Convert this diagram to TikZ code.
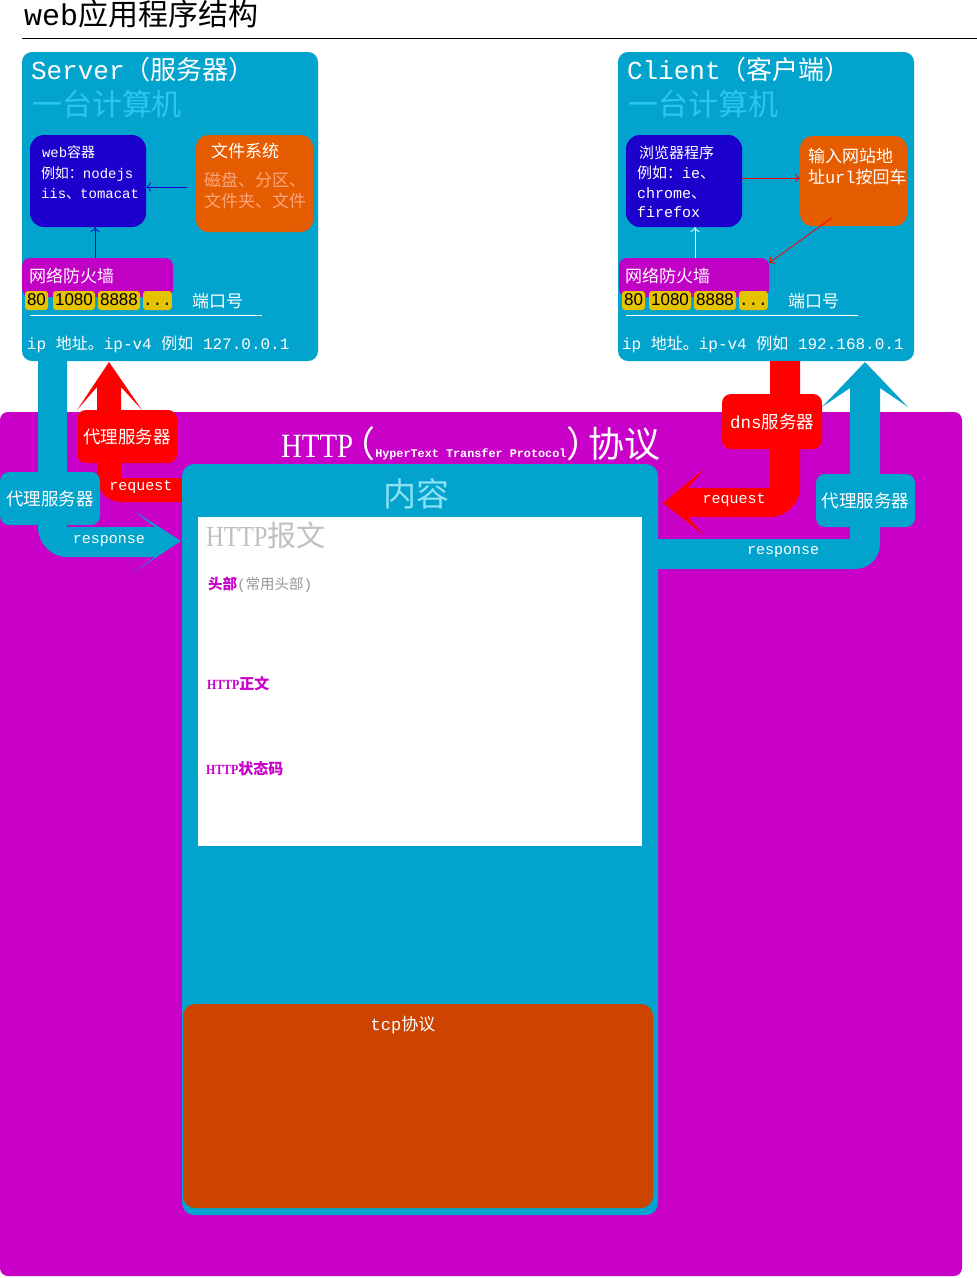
\documentclass[tikz,border=0pt]{standalone}
\usepackage{fontspec}
\setmainfont{Liberation Mono}
\newfontfamily\cjkf{Noto Sans CJK SC}
\newfontfamily\serf{Liberation Serif}[FakeStretch=0.85]
\newfontfamily\sansf{Liberation Sans}
\usetikzlibrary{arrows.meta}
% automatic switch between Latin and CJK fonts
\XeTeXinterchartokenstate=1
\newXeTeXintercharclass\CJKcls
\newcount\cjkc
\def\setcjkrange#1#2{\cjkc=#1\relax\loop\ifnum\cjkc<#2\relax\XeTeXcharclass\cjkc=\CJKcls\advance\cjkc by 1\relax\repeat}
\setcjkrange{"3000}{"3040}
\setcjkrange{"4E00}{"A000}
\setcjkrange{"FF00}{"FFF0}
\def\backfont{\rmfamily}
\XeTeXinterchartoks 0 \CJKcls = {\cjkf}
\XeTeXinterchartoks 4095 \CJKcls = {\cjkf}
\XeTeXinterchartoks \CJKcls 0 = {\backfont}
\XeTeXinterchartoks \CJKcls 4095 = {\backfont}

\definecolor{teal1}{RGB}{2,163,204}
\definecolor{mag}{RGB}{200,0,200}
\definecolor{fwmag}{RGB}{192,0,196}
\definecolor{dblue}{RGB}{28,0,204}
\definecolor{orng}{RGB}{230,92,0}
\definecolor{tcpor}{RGB}{204,68,0}
\definecolor{ylw}{RGB}{230,195,0}
\definecolor{lcyan}{RGB}{45,198,240}
\definecolor{ncyan}{RGB}{140,225,245}
\definecolor{peach}{RGB}{250,165,125}
\definecolor{lgrey}{RGB}{192,192,192}
\definecolor{mgrey}{RGB}{150,150,150}

\tikzset{
  area/.style={anchor=north west, inner sep=0pt, outer sep=0pt, draw=none},
  lbl/.style={anchor=base west, inner sep=0pt, outer sep=0pt, text=white},
  clbl/.style={anchor=center, inner sep=0pt, outer sep=0pt, text=white},
  sz/.style={font=\fontsize{#1}{#1}\selectfont},
  port/.style={area, fill=ylw, rounded corners=3pt, minimum height=19pt, text=black,
    text height=12.5pt, text depth=2.5pt,
    font=\sansf\fontsize{17}{17}\selectfont},
  proxy/.style={area, rounded corners=9pt, minimum width=100pt, minimum height=53pt, text=white,
    font=\fontsize{17.5}{18}\selectfont},
  darr/.style={draw=dblue, line width=0.8pt, -{To[length=5pt,width=9pt]}},
  rarr/.style={draw=red, line width=0.8pt, -{To[length=5pt,width=9pt]}},
  warr/.style={draw=white, line width=0.8pt, -{To[length=5pt,width=9pt]}},
}

\begin{document}
\begin{tikzpicture}[x=1pt,y=-1pt]
\useasboundingbox[fill=white] (0,0) rectangle (977,1278);

% title
\node[lbl, text=black, sz=30] (title) at (24,25) {web应用程序结构};
\draw[black, line width=1pt] (22,38) -- (977,38);

% big HTTP area
\node[area, fill=mag, rounded corners=8pt, minimum width=962pt, minimum height=864pt] (http) at (0,412) {};

% main boxes
\node[area, fill=teal1, rounded corners=10pt, minimum width=296pt, minimum height=309pt] (srv) at (22,52) {};
\node[area, fill=teal1, rounded corners=10pt, minimum width=296pt, minimum height=309pt] (cli) at (618,52) {};

% ---- bands (thick arrows)
% left response band (teal)
\fill[teal1] (38,361) -- (38,527) .. controls (38,544) and (51,557) .. (68,557) -- (155,557)
  -- (134,572) -- (181,541) -- (134,511) -- (155,527) -- (67,527) -- (67,361) -- cycle;
% left request band (red)
\fill[red] (97,387) -- (97,478) .. controls (97,491) and (108,502) .. (121,502) -- (183,502)
  -- (183,478) -- (121,478) -- (121,387) -- (142,410) -- (109,362) -- (77,410) -- cycle;
% right request band (red)
\fill[red] (770,361) -- (770,488) -- (688,488) -- (704,469) -- (663,503) -- (704,535) -- (688,517)
  -- (770,517) .. controls (786.5,517) and (800,503.5) .. (800,487) -- (800,361) -- cycle;
% right response band (teal)
\fill[teal1] (657,539) -- (850,539) -- (850,388) -- (822,407) -- (865,362) -- (908,407) -- (880,388)
  -- (880,544) .. controls (880,558) and (869,569) .. (855,569) -- (657,569) -- cycle;

% proxies
\node[proxy, fill=teal1] (pxl) at (0,472) {代理服务器};
\node[proxy, fill=red] (pxr) at (77,410) {代理服务器};
\node[proxy, fill=red, minimum height=55pt] (dns) at (722,394) {dns服务器};
\node[proxy, fill=teal1, minimum width=99pt] (pxt) at (816,474) {代理服务器};
\node[clbl, font=\fontsize{15}{15}\selectfont] (reql) at (141,487) {request};
\node[clbl, font=\fontsize{15}{15}\selectfont] (resl) at (109,541) {response};
\node[clbl, font=\fontsize{15}{15}\selectfont] (reqr) at (734,500) {request};
\node[clbl, font=\fontsize{15}{15}\selectfont] (resr) at (783,552) {response};

% HTTP title
\node[lbl, font=\fontsize{36}{36}\selectfont] (httpt) at (281,457)
  {{\serf\fontsize{34}{34}\selectfont HTTP}\kern-14pt（{\rmfamily\bfseries\fontsize{11.8}{12}\selectfont HyperText Transfer Protocol}）\kern-14pt 协议};

% content box
\node[area, fill=teal1, rounded corners=12pt, minimum width=476pt, minimum height=751pt] (content) at (182,464) {};
\node[clbl, text=ncyan, sz=33] (contt) at (416,494) {内容};
\node[area, fill=white, minimum width=444pt, minimum height=329pt] (msg) at (198,517) {};
\node[lbl, text=lgrey, font=\serf\fontsize{29}{29}\selectfont] (msgt) at (206,546) {HTTP报文};
\node[lbl, text=mag, sz=14.5] (head) at (208,589) {{\bfseries 头部}{\color{mgrey}(常用头部)}};
\node[lbl, text=mag, font=\serf\bfseries\fontsize{14}{14}\selectfont] (body) at (207,689) {HTTP{\fontsize{15}{15}\selectfont 正文}};
\node[lbl, text=mag, font=\serf\bfseries\fontsize{14}{14}\selectfont] (stat) at (206,774) {HTTP{\fontsize{15}{15}\selectfont 状态码}};
\node[area, fill=tcpor, rounded corners=12pt, minimum width=470pt, minimum height=204pt] (tcp) at (183,1004) {};
\node[clbl, sz=17] (tcpt) at (403,1025) {tcp协议};

% ---- Server inner
\node[lbl, sz=26] (srvt) at (31,79) {Server（服务器）};
\node[lbl, text=lcyan, sz=30] (srvs) at (32,115) {一台计算机};
\node[area, fill=dblue, rounded corners=14pt, minimum width=116pt, minimum height=92pt] (web) at (30,135) {};
\node[lbl, sz=14] (web1) at (42,157) {web容器};
\node[lbl, sz=14] (web2) at (41,178) {例如：nodejs};
\node[lbl, sz=14] (web3) at (41,198) {iis、tomacat};
\node[area, fill=orng, rounded corners=12pt, minimum width=117pt, minimum height=97pt] (fs) at (196,135) {};
\node[lbl, sz=17] (fs1) at (211,157) {文件系统};
\node[lbl, text=peach, sz=17] (fs2) at (204,186) {磁盘、分区、};
\node[lbl, text=peach, sz=17] (fs3) at (204,207) {文件夹、文件};
\node[area, fill=fwmag, rounded corners=8pt, minimum width=151pt, minimum height=39pt] (fw1) at (22,258) {};
\node[lbl, sz=17] (fw1t) at (29,282) {网络防火墙};
\node[port, minimum width=23pt] (p1a) at (25,291) {80};
\node[port, minimum width=42pt] (p1b) at (53,291) {1080};
\node[port, minimum width=42pt] (p1c) at (98,291) {8888};
\node[port, minimum width=24pt, font=\fontsize{16}{16}\selectfont] (p1d) at (143,291) {...};
\node[lbl, sz=17] (port1) at (192,307) {端口号};
\draw[white, line width=1pt] (30,315) -- (262,315);
\node[lbl, sz=16] (ip1) at (27,349) {ip 地址。ip-v4 例如 127.0.0.1};
\coordinate (a1) at (187,187);
\draw[darr] (a1) -- (a1 -| web.east);
\draw[darr] ([xshift=7pt]web.south |- fw1.north) -- ([xshift=7pt]web.south);

% ---- Client inner
\node[lbl, sz=26] (clit) at (627,79) {Client（客户端）};
\node[lbl, text=lcyan, sz=30] (clis) at (628,115) {一台计算机};
\node[area, fill=dblue, rounded corners=14pt, minimum width=116pt, minimum height=92pt] (brw) at (626,135) {};
\node[lbl, sz=15] (brw1) at (639,158) {浏览器程序};
\node[lbl, sz=15] (brw2) at (637,178) {例如：ie、};
\node[lbl, sz=15] (brw3) at (637,198) {chrome、};
\node[lbl, sz=15] (brw4) at (637,217) {firefox};
\node[area, fill=orng, rounded corners=12pt, minimum width=107pt, minimum height=90pt] (url) at (800,136) {};
\node[lbl, sz=17] (url1) at (808,162) {输入网站地};
\node[lbl, sz=17] (url2) at (808,183) {址url按回车};
\node[area, fill=fwmag, rounded corners=8pt, minimum width=150pt, minimum height=39pt] (fw2) at (619,258) {};
\node[lbl, sz=17] (fw2t) at (625,282) {网络防火墙};
\node[port, minimum width=23pt] (p2a) at (622,291) {80};
\node[port, minimum width=42pt] (p2b) at (649,291) {1080};
\node[port, minimum width=42pt] (p2c) at (694,291) {8888};
\node[port, minimum width=24pt, font=\fontsize{16}{16}\selectfont] (p2d) at (739,291) {...};
\node[lbl, sz=17] (port2) at (788,307) {端口号};
\draw[white, line width=1pt] (626,315) -- (858,315);
\node[lbl, sz=16] (ip2) at (622,349) {ip 地址。ip-v4 例如 192.168.0.1};
\draw[rarr] ([yshift=3pt]brw.east) -- ([yshift=3pt]url.west);
\draw[rarr] ([xshift=-22pt,yshift=8pt]url.south) -- ([yshift=-5pt]fw2.north east);
\draw[warr] ([xshift=11pt]brw.south |- fw2.north) -- ([xshift=11pt]brw.south);
\end{tikzpicture}
\end{document}
